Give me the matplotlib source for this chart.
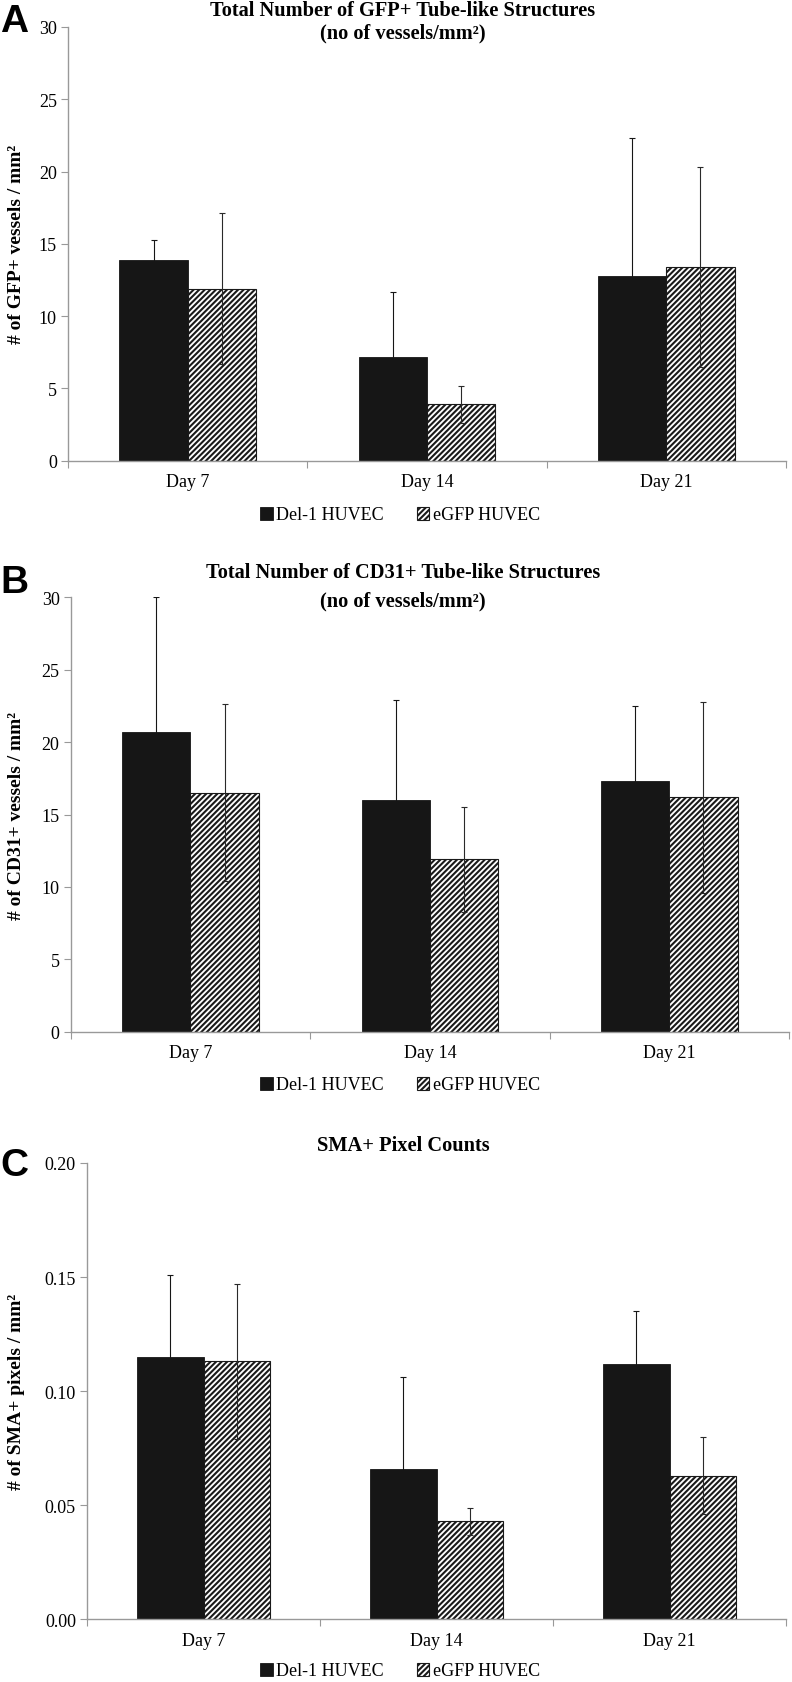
import numpy as np
import matplotlib
matplotlib.use("Agg")
import matplotlib.pyplot as plt
from matplotlib.ticker import FormatStrFormatter

plt.rcParams["font.family"] = ["Liberation Serif", "DejaVu Serif"]
plt.rcParams["hatch.linewidth"] = 1.5

days = ["Day 7", "Day 14", "Day 21"]
series_names = ["Del-1 HUVEC", "eGFP HUVEC"]

# panel A: GFP+ tube-like structures (vessels / mm^2)
gfp_del1 = [13.9, 7.2, 12.8]
gfp_del1_err = [1.4, 4.45, 9.5]
gfp_egfp = [11.9, 3.9, 13.4]
gfp_egfp_err = [5.2, 1.3, 6.9]

# panel B: CD31+ tube-like structures (vessels / mm^2)
cd31_del1 = [20.7, 16.0, 17.3]
cd31_del1_err = [9.3, 6.9, 5.2]
cd31_egfp = [16.5, 11.9, 16.2]
cd31_egfp_err = [6.1, 3.6, 6.6]

# panel C: SMA+ pixel counts (pixels / mm^2)
sma_del1 = [0.115, 0.066, 0.112]
sma_del1_err = [0.036, 0.040, 0.023]
sma_egfp = [0.113, 0.043, 0.063]
sma_egfp_err = [0.034, 0.006, 0.017]

W, H = 792, 1683
fig = plt.figure(figsize=(W / 100, H / 100), dpi=100)


def px_rect(left, right, top, bottom):
    return [left / W, 1 - bottom / H, (right - left) / W, (bottom - top) / H]


panels = [
    dict(rect=px_rect(68, 786, 28, 461.7), letter="A", letter_y=22,
         title=["Total Number of GFP+ Tube-like Structures", "(no of vessels/mm²)"],
         title_y=[11, 33], ylabel="# of GFP+ vessels / mm²",
         a=gfp_del1, ae=gfp_del1_err, b=gfp_egfp, be=gfp_egfp_err,
         ylim=30, step=5, fmt="%d", legend_y=516),
    dict(rect=px_rect(70.7, 789, 598.3, 1032.7), letter="B", letter_y=583,
         title=["Total Number of CD31+ Tube-like Structures", "(no of vessels/mm²)"],
         title_y=[573, 601], ylabel="# of CD31+ vessels / mm²",
         a=cd31_del1, ae=cd31_del1_err, b=cd31_egfp, be=cd31_egfp_err,
         ylim=30, step=5, fmt="%d", legend_y=1086),
    dict(rect=px_rect(87, 786, 1164, 1620.3), letter="C", letter_y=1166,
         title=["SMA+ Pixel Counts"], title_y=[1146],
         ylabel="# of SMA+ pixels / mm²",
         a=sma_del1, ae=sma_del1_err, b=sma_egfp, be=sma_egfp_err,
         ylim=0.20, step=0.05, fmt="%.2f", legend_y=1672),
]

x = np.arange(len(days))
w = 0.285
spine_c = "#999999"

for p in panels:
    ax = fig.add_axes(p["rect"])
    b1 = ax.bar(x - w / 2, p["a"], w, color="#161616", edgecolor="#161616",
                linewidth=0.6, label=series_names[0], zorder=2)
    b2 = ax.bar(x + w / 2, p["b"], w, color="white", edgecolor="#1a1a1a",
                hatch="//////", linewidth=0.8, label=series_names[1], zorder=2)
    ax.errorbar(x - w / 2, p["a"], yerr=p["ae"], fmt="none", ecolor="#161616",
                elinewidth=0.8, capsize=2.2, capthick=0.8, zorder=3)
    ax.errorbar(x + w / 2, p["b"], yerr=p["be"], fmt="none", ecolor="#2a2a2a",
                elinewidth=0.8, capsize=2.2, capthick=0.8, zorder=3)

    ax.set_xlim(-0.5, 2.5)
    ax.set_ylim(0, p["ylim"])
    ax.set_yticks(np.arange(0, p["ylim"] + p["step"] / 2, p["step"]))
    ax.yaxis.set_major_formatter(FormatStrFormatter(p["fmt"]))

    ax.set_xticks([-0.5, 0.5, 1.5, 2.5])
    ax.set_xticklabels([])
    ax.set_xticks(x, minor=True)
    ax.set_xticklabels(days, minor=True)
    ax.tick_params(axis="x", which="minor", length=0, pad=9, labelsize=13)
    ax.tick_params(axis="x", which="major", length=5, color=spine_c, direction="out")
    ax.tick_params(axis="y", length=5, color=spine_c, pad=3, labelsize=13)

    for s in ["top", "right"]:
        ax.spines[s].set_visible(False)
    for s in ["left", "bottom"]:
        ax.spines[s].set_color(spine_c)
        ax.spines[s].set_linewidth(1.0)

    for t, ty in zip(p["title"], p["title_y"]):
        fig.text(403 / W, 1 - ty / H, t, ha="center", va="center",
                 fontsize=14.7, fontweight="bold")
    fig.text(17 / W, p["rect"][1] + p["rect"][3] / 2, p["ylabel"], rotation=90,
             ha="center", va="center", fontsize=14, fontweight="bold")
    fig.text(14 / W, 1 - p["letter_y"] / H, p["letter"], ha="center", va="center",
             fontsize=28, fontweight="bold", family="Liberation Sans")

    ax.legend(handles=[b1, b2], loc="center", bbox_to_anchor=(400 / W, 1 - p["legend_y"] / H),
              bbox_transform=fig.transFigure, ncol=2, frameon=False, fontsize=13,
              handlelength=0.7, handleheight=0.7, handletextpad=0.2, columnspacing=1.8)

fig.savefig("out.png", dpi=100)
